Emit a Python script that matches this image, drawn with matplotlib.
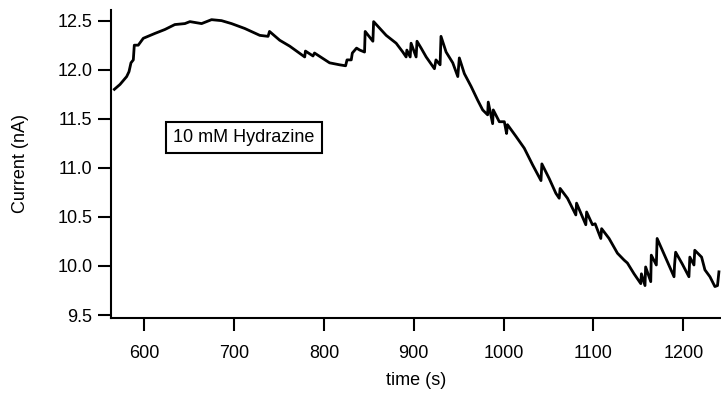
import matplotlib.pyplot as plt
import numpy as np

plt.rcParams['font.family'] = ['Liberation Sans', 'DejaVu Sans']

# amperometric trace, time in s and current in nA
time = [566.7, 573, 580.4, 583, 585.2, 587.8, 588.9, 593.3, 598.9, 611.9,
        623, 634, 645.2, 650.8, 663.8, 674.9, 686, 697.1, 711.9, 728.6,
        737.8, 739.4, 750.8, 761.9, 778.6, 779.4, 787.8, 789.5, 806.3, 817.4,
        824.1, 825.7, 830.4, 831.6, 836.3, 839.9, 845.2, 845.9, 854.5, 855.3,
        869.3, 880.4, 887.8, 891.5, 892.3, 896, 897.0, 902.6, 903.6, 908.2,
        913.8, 923, 924.7, 929.3, 930.3, 936, 943.4, 949, 950.7, 956.3,
        963.8, 971.1, 976.7, 982.2, 982.9, 987.8, 988.5, 995.2, 1000.8, 1003.3,
        1004.3, 1013.8, 1023, 1032.3, 1041.6, 1042.6, 1050.8, 1058.2, 1061.9, 1062.9,
        1071.1, 1080.4, 1081.2, 1091.5, 1092.4, 1098.9, 1101.9, 1108.2, 1109.1, 1117.4,
        1126.7, 1134.1, 1137.8, 1145.2, 1152.7, 1153.4, 1157.4, 1158.1, 1163.8, 1164.4,
        1170, 1170.9, 1176.7, 1189.7, 1190.3, 1191.5, 1198.9, 1206.3, 1207.3, 1211.9,
        1212.8, 1220.4, 1224.1, 1229.7, 1235.2, 1238.1, 1239.7]
current = [11.80, 11.85, 11.93, 11.98, 12.07, 12.10, 12.25, 12.25, 12.32, 12.37,
           12.41, 12.46, 12.47, 12.49, 12.47, 12.51, 12.50, 12.47, 12.42, 12.35,
           12.34, 12.39, 12.30, 12.24, 12.13, 12.19, 12.14, 12.17, 12.07, 12.05,
           12.04, 12.10, 12.10, 12.17, 12.22, 12.20, 12.18, 12.39, 12.29, 12.49,
           12.35, 12.27, 12.18, 12.13, 12.20, 12.13, 12.27, 12.13, 12.29, 12.22,
           12.13, 12.01, 12.10, 12.05, 12.34, 12.18, 12.07, 11.93, 12.12, 11.96,
           11.83, 11.69, 11.59, 11.54, 11.67, 11.45, 11.59, 11.47, 11.47, 11.35,
           11.44, 11.32, 11.20, 11.03, 10.87, 11.04, 10.89, 10.74, 10.69, 10.79,
           10.69, 10.52, 10.64, 10.42, 10.55, 10.42, 10.43, 10.28, 10.38, 10.28,
           10.13, 10.06, 10.03, 9.92, 9.82, 9.92, 9.80, 9.99, 9.84, 10.11,
           10.01, 10.28, 10.16, 9.89, 10.01, 10.14, 10.02, 9.89, 10.09, 10.01,
           10.16, 10.09, 9.96, 9.89, 9.79, 9.80, 9.94]

fig = plt.figure(figsize=(7.21, 3.94), dpi=100)
ax = fig.add_axes([0.154, 0.193, 0.846, 0.782])

ax.plot(time, current, color='black', lw=2.0)

ax.set_xlim(563, 1242)
ax.set_ylim(9.47, 12.61)
ax.set_xticks(np.arange(600, 1201, 100))
ax.set_yticks(np.arange(9.5, 12.51, 0.5))
ax.yaxis.set_major_formatter(plt.FormatStrFormatter('%.1f'))

for s in ['top', 'right']:
    ax.spines[s].set_visible(False)
for s in ['left', 'bottom']:
    ax.spines[s].set_linewidth(1.5)

ax.tick_params(axis='both', direction='out', length=9.5, width=1.5, labelsize=13)
ax.tick_params(axis='x', pad=10)
ax.tick_params(axis='y', pad=4)

ax.set_xlabel('time (s)', fontsize=13, labelpad=7)
ax.set_ylabel('Current (nA)', fontsize=13, labelpad=20)

ax.text(711, 11.31, '10 mM Hydrazine', fontsize=13, ha='center', va='center',
        bbox=dict(boxstyle='square,pad=0.38', fc='white', ec='black', lw=1.5))

fig.savefig('out.png', dpi=100)
